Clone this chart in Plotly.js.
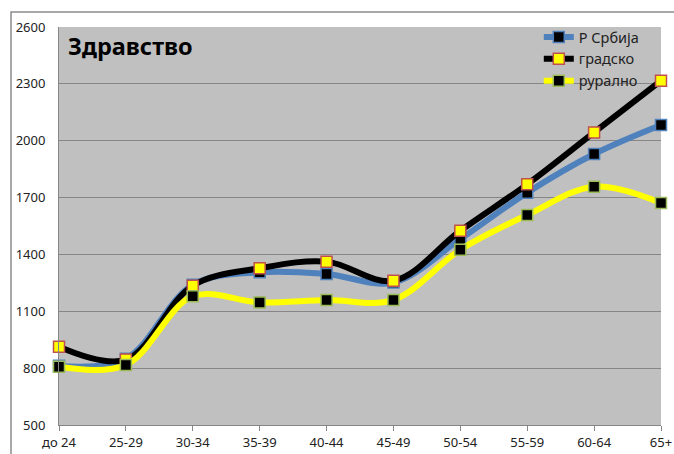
<!DOCTYPE html>
<html><head><meta charset="utf-8">
<script src="https://cdn.plot.ly/plotly-3.0.1.min.js"></script>
<style>html,body{margin:0;padding:0;background:#fff}#chart{width:674px;height:454px}</style>
</head><body><div id="chart"></div>
<script>
const categories = ["до 24","25-29","30-34","35-39","40-44","45-49","50-54","55-59","60-64","65+"];
const srbija  = [812, 850, 1240, 1306, 1297, 1252, 1481, 1726, 1930, 2083];
const gradsko = [913, 845, 1235, 1327, 1362, 1261, 1525, 1770, 2044, 2317];
const ruralno = [807, 817, 1179, 1147, 1160, 1160, 1425, 1608, 1757, 1671];
const seriesNames = ["Р Србија","градско","рурално"];
const yTicks = [500, 800, 1100, 1400, 1700, 2000, 2300, 2600];

const FONT = "Noto Sans, Open Sans, sans-serif";
function tr(name, y, lineColor, mFill, mLine){
  return {type:"scatter", mode:"lines+markers", name:name, x:categories, y:y,
    line:{color:lineColor, width:6, shape:"spline", smoothing:1},
    marker:{symbol:"square", size:11, color:mFill, line:{color:mLine, width:1.5}},
    cliponaxis:false};
}
const data = [
  tr(seriesNames[0], srbija, "#4F81BD", "#000000", "#4F81BD"),
  tr(seriesNames[1], gradsko, "#000000", "#FFFF00", "#C0504D"),
  tr(seriesNames[2], ruralno, "#FFFF00", "#000000", "#9BBB59")
];
const layout = {
  width:674, height:454,
  margin:{l:59, r:13, t:27, b:29},
  paper_bgcolor:"#ffffff", plot_bgcolor:"#C0C0C0",
  font:{family:FONT, size:13, color:"#222"},
  showlegend:true,
  legend:{x:0.797, xanchor:"left", y:1.015, yanchor:"top", bgcolor:"rgba(0,0,0,0)",
    font:{family:FONT, size:14.5, color:"#222"}, tracegroupgap:0, itemwidth:30},
  xaxis:{type:"category", range:[0,9], showgrid:false, showline:true, linecolor:"#868686", linewidth:1,
    ticks:"outside", ticklen:5, tickcolor:"#868686", tickfont:{family:FONT, size:13, color:"#222"}, zeroline:false, fixedrange:true},
  yaxis:{range:[500,2600], tickvals:yTicks, ticktext:yTicks.map(String), showgrid:true, gridcolor:"#868686", gridwidth:1,
    showline:true, linecolor:"#868686", linewidth:1, ticks:"", ticklabelstandoff:10,
    tickfont:{family:FONT, size:13, color:"#222"}, zeroline:false, fixedrange:true},
  annotations:[{text:"<b>Здравство</b>", xref:"paper", yref:"paper", x:0.011, y:0.998, xanchor:"left", yanchor:"top",
    showarrow:false, font:{family:FONT, size:23.5, color:"#000"}}],
  shapes:[{type:"rect", xref:"paper", yref:"paper", x0:-0.0797, x1:1.1, y0:-0.2, y1:1.0377,
    line:{color:"#8c8c8c", width:1.5}, fillcolor:"rgba(0,0,0,0)", layer:"below"}]
};
Plotly.newPlot("chart", data, layout, {displayModeBar:false, staticPlot:true});
</script></body></html>
